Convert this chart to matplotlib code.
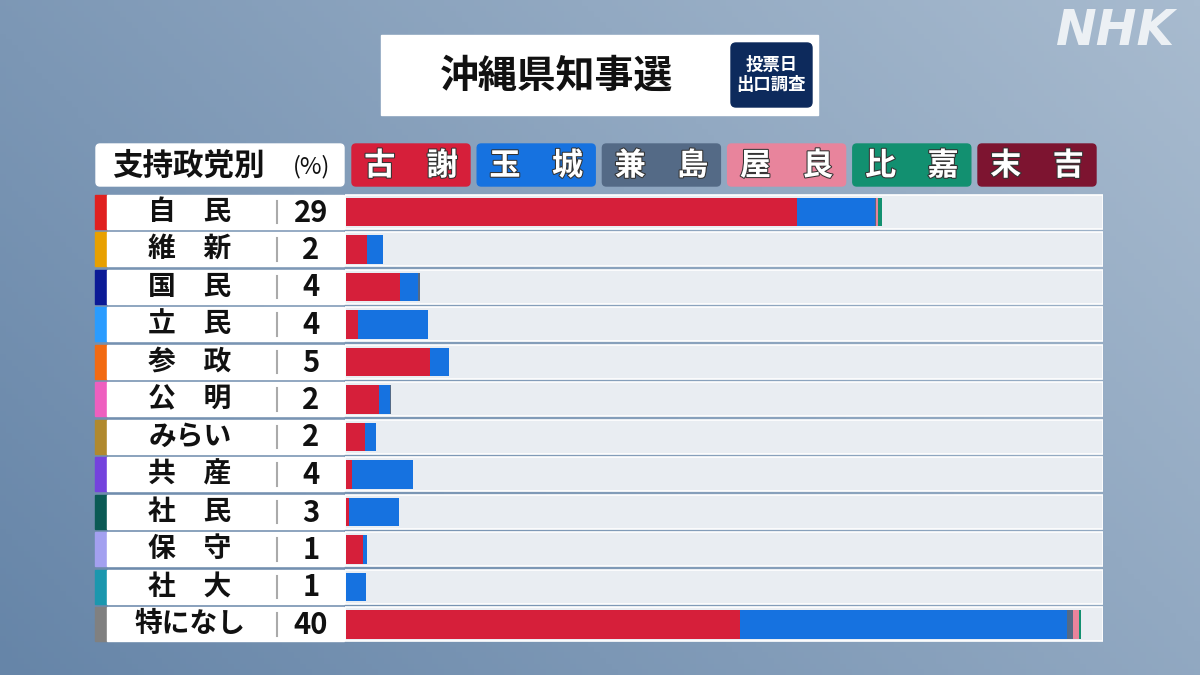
import numpy as np
import matplotlib
matplotlib.use("Agg")
import matplotlib.pyplot as plt
import matplotlib.patheffects as pe
from matplotlib.patches import FancyBboxPatch, Rectangle

plt.rcParams['font.family'] = ['Noto Sans CJK JP', 'DejaVu Sans']

# data: share of all voters (%) by supported party, split by candidate
parties = ["自　民", "維　新", "国　民", "立　民", "参　政", "公　明",
           "みらい", "共　産", "社　民", "保　守", "社　大", "特になし"]
party_share = [29, 2, 4, 4, 5, 2, 2, 4, 3, 1, 1, 40]
party_colors = ["#e0201f", "#e8a000", "#0b1a96", "#2a9cff", "#f26a12", "#ee5fbf",
                "#b0892e", "#7443dd", "#0b5a55", "#a3a0f0", "#1b97ae", "#808080"]

candidates = ["古　謝", "玉　城", "兼　島", "屋　良", "比　嘉", "末　吉"]
cand_colors = ["#d61f3a", "#1672e0", "#546a86", "#e8849c", "#129070", "#7d1430"]

koja      = [24.5, 1.15, 2.9, 0.65, 4.55, 1.8, 1.05, 0.33, 0.16, 0.92, 0.0, 21.4]
tamaki    = [4.2, 0.87, 1.0, 3.8, 1.05, 0.6, 0.6, 3.3, 2.7, 0.22, 1.1, 17.75]
kaneshima = [0.05, 0.0, 0.1, 0.0, 0.0, 0.06, 0.0, 0.0, 0.0, 0.0, 0.0, 0.33]
yara      = [0.12, 0.0, 0.0, 0.0, 0.0, 0.0, 0.0, 0.0, 0.03, 0.0, 0.0, 0.33]
higa      = [0.2, 0.0, 0.0, 0.0, 0.0, 0.0, 0.0, 0.0, 0.0, 0.0, 0.0, 0.11]
sueyoshi  = [0.0] * 12
series = [koja, tamaki, kaneshima, yara, higa, sueyoshi]

W, H = 1200, 675
fig = plt.figure(figsize=(12, 6.75), dpi=100)

# background gradient
bg = fig.add_axes([0, 0, 1, 1])
gx = np.linspace(0, 1, 200)
gy = np.linspace(0, 1, 120)
grad = 0.65 * gx[None, :] + 0.35 * (1 - gy[:, None])
c0 = np.array([0x66, 0x85, 0xa8]) / 255
c1 = np.array([0xa8, 0xbb, 0xcf]) / 255
img = c0[None, None, :] + (c1 - c0)[None, None, :] * grad[:, :, None]
bg.imshow(img, aspect="auto", extent=[0, W, H, 0])
bg.set_xlim(0, W)
bg.set_ylim(H, 0)
bg.axis("off")

# title
bg.add_patch(Rectangle((381, 35), 437, 80, color="white"))
bg.text(556, 76, "沖縄県知事選", fontsize=28, fontweight="bold", ha="center", va="center", color="#111111")
bg.add_patch(FancyBboxPatch((731, 43), 81, 64, boxstyle="round,pad=0,rounding_size=5", color="#0d2a5c"))
bg.text(771.5, 75, "投票日\n出口調査", fontsize=12.5, fontweight="bold", ha="center", va="center",
        color="white", linespacing=1.1)
bg.text(1116, 31, "NHK", family="DejaVu Sans", fontsize=35, fontweight="bold", fontstyle="italic",
        ha="center", va="center", color="white", alpha=0.8)

# header row
bg.add_patch(FancyBboxPatch((96, 144), 248, 42, boxstyle="round,pad=0,rounding_size=4", color="white"))
bg.text(112, 166, "支持政党別", fontsize=22, fontweight="bold", ha="left", va="center", color="#111111")
bg.text(312, 167, "(%)", fontsize=17, ha="center", va="center", color="#111111")
stroke = [pe.withStroke(linewidth=1.5, foreground="#333333")]
for i, (name, col) in enumerate(zip(candidates, cand_colors)):
    x0 = 352 + i * 125.2
    bg.add_patch(FancyBboxPatch((x0, 144), 118, 42, boxstyle="round,pad=0,rounding_size=4", color=col))
    bg.text(x0 + 59, 166, name, fontsize=22.5, fontweight="bold", ha="center", va="center",
            color="white", path_effects=stroke)

# left label axes (pixel x, row y)
top, bottom = 193, 643
lab = fig.add_axes([94 / W, 1 - bottom / H, 251 / W, (bottom - top) / H])
lab.set_xlim(94, 345)
lab.set_ylim(len(parties) - 0.5, -0.5)
lab.axis("off")
for i, (p, s, c) in enumerate(zip(parties, party_share, party_colors)):
    lab.add_patch(Rectangle((95, i - 0.45), 12, 0.9, color=c))
    lab.add_patch(Rectangle((107, i - 0.45), 237, 0.9, color="white"))
    lab.plot([277, 277], [i - 0.3, i + 0.3], color="#aaaaaa", lw=1.5)
    lab.text(190, i, p, fontsize=20, fontweight="bold", ha="center", va="center", color="#111111")
    lab.text(311, i + 0.02, str(s), fontsize=21, fontweight="bold", ha="center", va="center", color="#111111")

# bar axes
ax = fig.add_axes([345 / W, 1 - bottom / H, 758 / W, (bottom - top) / H])
xmax = 758 / 18.42
ax.set_xlim(0, xmax)
ax.set_ylim(len(parties) - 0.5, -0.5)
ax.axis("off")
y = np.arange(len(parties))
ax.barh(y, [xmax] * len(parties), height=0.9, color="#e9edf2", edgecolor="white", linewidth=1.2)
left = np.full(len(parties), 0.06)
for vals, col in zip(series, cand_colors):
    ax.barh(y, vals, left=left, height=0.76, color=col, linewidth=0)
    left = left + np.array(vals)

fig.savefig("out.png", dpi=100)
